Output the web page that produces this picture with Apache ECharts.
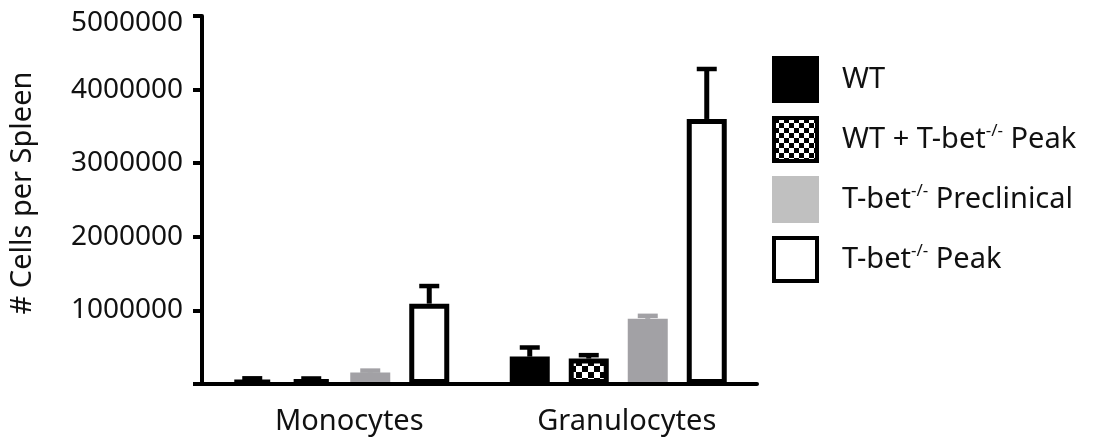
<!DOCTYPE html>
<html><head><meta charset="utf-8">
<script src="https://cdn.jsdelivr.net/npm/echarts@6/dist/echarts.min.js"></script>
<style>html,body{margin:0;padding:0;background:#fff}#c{width:1099px;height:438px}</style>
</head><body><div id="c"></div>
<script>
// ---- data ----
const categories = ['Monocytes', 'Granulocytes'];
const seriesNames = ['WT', 'WT + T-bet-/- Peak', 'T-bet-/- Preclinical', 'T-bet-/- Peak'];
const wtMean = [55000, 372000];
const wtSem = [22000, 124000];
const mixMean = [65000, 345000];
const mixSem = [10000, 47000];
const preMean = [155000, 885000];
const preSem = [27000, 41000];
const peakMean = [1092000, 3601000];
const peakSem = [239000, 679000];
const yMin = 0, yMax = 5000000, yInterval = 1000000;
const yAxisTitle = '# Cells per Spleen';

const means = [wtMean, mixMean, preMean, peakMean];
const sems = [wtSem, mixSem, preSem, peakSem];

function checker(cell) {
  const cv = document.createElement('canvas');
  cv.width = cell * 2; cv.height = cell * 2;
  const g = cv.getContext('2d');
  g.fillStyle = '#fff'; g.fillRect(0, 0, cell * 2, cell * 2);
  g.fillStyle = '#000';
  g.fillRect(0, 0, cell, cell); g.fillRect(cell, cell, cell, cell);
  return cv;
}
const FONT = 'Noto Sans';
const GRAY = '#a2a1a5';
const barStyles = [
  { color: '#000', borderColor: '#000', borderWidth: 5 },
  { color: { image: checker(6), repeat: 'repeat' }, borderColor: '#000', borderWidth: 5 },
  { color: GRAY, borderColor: GRAY, borderWidth: 5 },
  { color: '#fff', borderColor: '#000', borderWidth: 5 }
];
const legendStyles = [
  { color: '#000', borderColor: '#000', borderWidth: 4 },
  { color: { image: checker(5), repeat: 'repeat' }, borderColor: '#000', borderWidth: 4 },
  { color: '#c0c0c0', borderColor: '#c0c0c0', borderWidth: 4 },
  { color: '#fff', borderColor: '#000', borderWidth: 4 }
];
const errColors = ['#000', '#000', GRAY, '#000'];

const BAR_W = 40, BAR_GAP = 19;

const barSeries = seriesNames.map((n, i) => ({
  name: n, type: 'bar', data: means[i],
  barWidth: BAR_W, barGap: (BAR_GAP / BAR_W * 100) + '%',
  itemStyle: barStyles[i], z: 2, silent: true
}));

const errData = [];
means.forEach((m, si) => m.forEach((v, ci) => errData.push([ci, v, v + sems[si][ci], si])));

const errSeries = {
  type: 'custom', z: 4, silent: true,
  data: errData,
  encode: { x: 0, y: [1, 2] },
  renderItem(params, api) {
    const ci = api.value(0), si = api.value(3);
    const a = api.coord([ci, api.value(1)]);
    const b = api.coord([ci, api.value(2)]);
    const x = a[0] + (si - 1.5) * (BAR_W + BAR_GAP);
    const col = errColors[si];
    return { type: 'group', children: [
      { type: 'line', shape: { x1: x, y1: a[1], x2: x, y2: b[1] }, style: { stroke: col, lineWidth: 5 } },
      { type: 'line', shape: { x1: x - 10, y1: b[1], x2: x + 10, y2: b[1] }, style: { stroke: col, lineWidth: 4.5 } }
    ] };
  }
};

const chart = echarts.init(document.getElementById('c'));
chart.setOption({
  animation: false,
  backgroundColor: '#fff',
  textStyle: { fontFamily: FONT },
  grid: { left: 202, right: 342, top: 16, bottom: 54, containLabel: false },
  legend: {
    orient: 'vertical', left: 772, top: 56, padding: 0,
    itemWidth: 43, itemHeight: 43, itemGap: 13,
    icon: 'rect',
    selectedMode: false,
    data: seriesNames.map((n, i) => ({ name: n, itemStyle: legendStyles[i] })),
    formatter: (name) => name.replace('-/-', '{sup|-/-}'),
    textStyle: {
      fontFamily: FONT, fontSize: 29, color: '#111', lineHeight: 34,
      padding: [0, 0, 0, 20],
      rich: { sup: { fontFamily: FONT, fontSize: 17, lineHeight: 17, verticalAlign: 'top', color: '#111' } }
    }
  },
  xAxis: {
    type: 'category', data: categories, z: 3,
    axisLine: { lineStyle: { color: '#000', width: 4 } },
    axisTick: { alignWithLabel: true, length: 10, lineStyle: { color: '#000', width: 4 } },
    axisLabel: { fontFamily: FONT, fontSize: 29, color: '#111', margin: 23, padding: [0, 0, 0, 17] }
  },
  yAxis: {
    type: 'value', min: yMin, max: yMax, interval: yInterval, z: 3,
    name: yAxisTitle, nameLocation: 'middle', nameGap: 165,
    nameTextStyle: { fontFamily: FONT, fontSize: 29, color: '#111', padding: [0, 0, 0, 14] },
    splitLine: { show: false },
    axisLine: { show: true, lineStyle: { color: '#000', width: 4 } },
    axisTick: { show: true, length: 9, lineStyle: { color: '#000', width: 4 } },
    axisLabel: { fontFamily: FONT, fontSize: 28, color: '#111', margin: 19,
      formatter: (v) => v === 0 ? '' : (v === yMax ? '{top|' + v + '}' : String(v)),
      rich: { top: { fontFamily: FONT, fontSize: 28, color: '#111', padding: [14, 0, 0, 0] } } }
  },
  series: [...barSeries, errSeries]
});
</script></body></html>
